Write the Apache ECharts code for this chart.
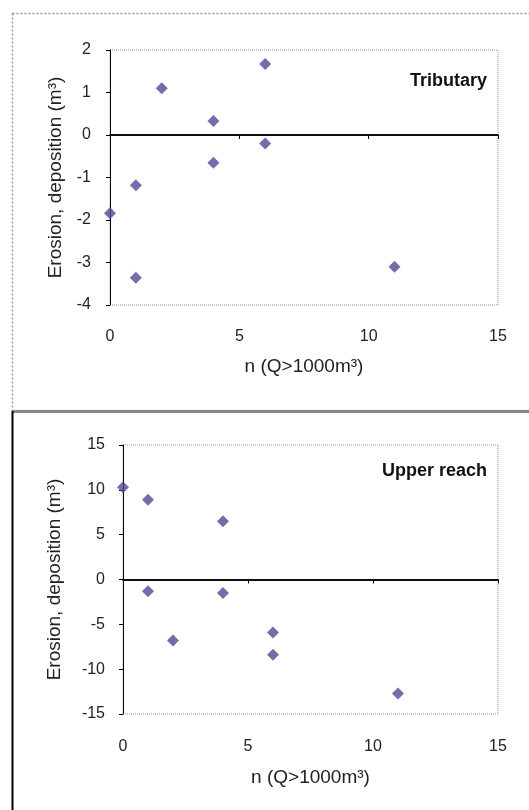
<!DOCTYPE html>
<html>
<head>
<meta charset="utf-8">
<script src="https://cdn.jsdelivr.net/npm/echarts@6/dist/echarts.min.js"></script>
<style>
  html, body { margin: 0; padding: 0; background: #fff; }
  #chart { width: 529px; height: 810px; }
</style>
</head>
<body>
<div id="chart"></div>
<script>
// n (Q>1000m3) against erosion / deposition
var tribN   = [0, 1, 1, 2, 4, 4, 6, 6, 11];
var tribVal = [-1.84, -1.18, -3.36, 1.1, 0.33, -0.65, 1.67, -0.2, -3.1];
var upperN   = [0, 1, 1, 2, 4, 4, 6, 6, 11];
var upperVal = [10.3, 8.9, -1.3, -6.8, 6.5, -1.5, -5.9, -8.4, -12.7];
var xTicks = [0, 5, 10, 15];
var tribTicks = [-4, -3, -2, -1, 0, 1, 2];
var upperTicks = [-15, -10, -5, 0, 5, 10, 15];

var font = 'Liberation Sans, Arial, sans-serif';
var markColor = '#4f4a94';

function pairs(xs, ys) {
  return xs.map(function (x, i) { return [x, ys[i]]; });
}

function xAxisFor(gridIndex, gap, margin) {
  return {
    type: 'value', gridIndex: gridIndex,
    min: xTicks[0], max: xTicks[xTicks.length - 1], interval: 5,
    name: 'n (Q>1000m³)', nameLocation: 'middle', nameGap: gap,
    nameTextStyle: { fontFamily: font, fontSize: 19, color: '#222' },
    axisLine: { lineStyle: { color: '#000', width: 1.5 } },
    axisTick: { show: true, inside: false, length: 4, lineStyle: { color: '#000' } },
    axisLabel: { margin: margin, fontFamily: font, fontSize: 16, color: '#222' },
    splitLine: { show: false }
  };
}

function yAxisFor(gridIndex, ticks, interval, gap, margin) {
  return {
    type: 'value', gridIndex: gridIndex,
    min: ticks[0], max: ticks[ticks.length - 1], interval: interval,
    name: 'Erosion, deposition (m³)', nameLocation: 'middle', nameGap: gap,
    nameTextStyle: { fontFamily: font, fontSize: 19, color: '#222' },
    axisLine: { show: true, onZero: false, lineStyle: { color: '#000', width: 1 } },
    axisTick: { show: true, inside: false, length: 4, lineStyle: { color: '#000' } },
    axisLabel: { margin: margin, fontFamily: font, fontSize: 16, color: '#222' },
    splitLine: { show: false }
  };
}

function zeroLine() {
  return {
    silent: true, symbol: 'none',
    label: { show: false },
    lineStyle: { color: '#000', width: 1.5, type: 'solid' },
    data: [{ yAxis: 0 }]
  };
}

var chart = echarts.init(document.getElementById('chart'));
chart.setOption({
  animation: false,
  backgroundColor: '#fff',
  grid: [
    { left: 110, top: 50, width: 388, height: 255, show: true,
      borderColor: '#999', borderWidth: 1, borderType: 'dotted', backgroundColor: 'transparent' },
    { left: 123, top: 445, width: 375, height: 269, show: true,
      borderColor: '#999', borderWidth: 1, borderType: 'dotted', backgroundColor: 'transparent' }
  ],
  xAxis: [xAxisFor(0, 52, 24), xAxisFor(1, 54, 25)],
  yAxis: [yAxisFor(0, tribTicks, 1, 45, 19), yAxisFor(1, upperTicks, 5, 59, 18)],
  series: [
    { name: 'Tributary', type: 'scatter', xAxisIndex: 0, yAxisIndex: 0,
      symbol: 'diamond', symbolSize: 12, itemStyle: { color: markColor },
      data: pairs(tribN, tribVal), markLine: zeroLine() },
    { name: 'Upper reach', type: 'scatter', xAxisIndex: 1, yAxisIndex: 1,
      symbol: 'diamond', symbolSize: 12, itemStyle: { color: markColor },
      data: pairs(upperN, upperVal), markLine: zeroLine() }
  ],
  graphic: [
    // panel frames
    { type: 'rect', shape: { x: 12.5, y: 13.5, width: 530, height: 397 },
      style: { fill: 'none', stroke: '#999', lineWidth: 1.5, lineDash: [2, 2] } },
    { type: 'line', shape: { x1: 12, y1: 411.5, x2: 529, y2: 411.5 },
      style: { stroke: '#888', lineWidth: 3 } },
    { type: 'line', shape: { x1: 12.5, y1: 411, x2: 12.5, y2: 810 },
      style: { stroke: '#000', lineWidth: 2 } },
    // panel labels
    { type: 'text', right: 42, top: 72,
      style: { text: 'Tributary', font: 'bold 18px ' + font, fill: '#111' } },
    { type: 'text', right: 42, top: 462,
      style: { text: 'Upper reach', font: 'bold 18px ' + font, fill: '#111' } }
  ]
});
</script>
</body>
</html>
